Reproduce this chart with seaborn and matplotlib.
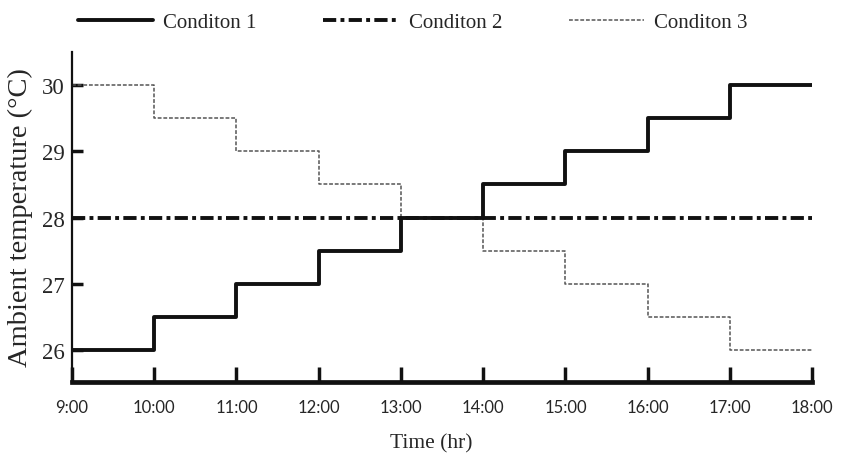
import matplotlib
matplotlib.use("Agg")
import matplotlib.pyplot as plt
import seaborn as sns
import pandas as pd

hours = [9, 10, 11, 12, 13, 14, 15, 16, 17, 18]
tick_labels = ["9:00", "10:00", "11:00", "12:00", "13:00", "14:00", "15:00", "16:00", "17:00", "18:00"]
cond1 = [26, 26.5, 27, 27.5, 28, 28.5, 29, 29.5, 30, 30]
cond2 = [28, 28, 28, 28, 28, 28, 28, 28, 28, 28]
cond3 = [30, 29.5, 29, 28.5, 28, 27.5, 27, 26.5, 26, 26]
names = ["Conditon 1", "Conditon 2", "Conditon 3"]

sns.set_theme(style="white")
plt.rcParams['font.family'] = ['Liberation Serif', 'DejaVu Serif']

fig = plt.figure(figsize=(8.46, 4.56), dpi=100)
ax = fig.add_axes([0.085, 0.16, 0.875, 0.724])

df = pd.DataFrame({"hour": hours, names[0]: cond1, names[1]: cond2, names[2]: cond3})

sns.lineplot(data=df, x="hour", y=names[2], ax=ax, color="#555555", lw=1.1,
             linestyle=(0, (2.5, 1.2)), drawstyle="steps-post", label=names[2])
sns.lineplot(data=df, x="hour", y=names[1], ax=ax, color="#111111", lw=2.8,
             linestyle=(0, (3.4, 1.1, 1.0, 1.1)), label=names[1])
sns.lineplot(data=df, x="hour", y=names[0], ax=ax, color="#111111", lw=2.8,
             drawstyle="steps-post", label=names[0])

ax.set_xlim(9, 18)
ax.set_ylim(25.52, 30.5)
ax.set_xticks(hours)
ax.set_xticklabels(tick_labels, fontfamily="Lato", fontsize=12)
ax.set_yticks([26, 27, 28, 29, 30])
ax.set_yticklabels(["26", "27", "28", "29", "30"], fontsize=16.5)
ax.tick_params(axis="both", bottom=True, left=True, direction="in", width=2.5, color="#111111")
ax.tick_params(axis="x", length=11, pad=12)
ax.tick_params(axis="y", length=8, pad=5)
for s in ["top", "right"]:
    ax.spines[s].set_visible(False)
for s in ["left", "bottom"]:
    ax.spines[s].set_color("#111111")
ax.spines["left"].set_linewidth(1.6)
ax.spines["bottom"].set_linewidth(3.4)
ax.set_xlabel("Time (hr)", fontsize=15.5)
ax.xaxis.set_label_coords(0.486, -0.155)
ax.set_ylabel("Ambient temperature (\u00b0C)", fontsize=20.5)
ax.yaxis.set_label_coords(-0.052, 0.5)

handles, labels = ax.get_legend_handles_labels()
order = [labels.index(n) for n in names]
ax.legend([handles[i] for i in order], [labels[i] for i in order],
          loc="upper center", bbox_to_anchor=(0.488, 1.012), bbox_transform=fig.transFigure,
          ncol=3, frameon=False, fontsize=15, handlelength=3.6, handletextpad=0.5,
          columnspacing=3.2)

fig.savefig("out.png", dpi=100)
